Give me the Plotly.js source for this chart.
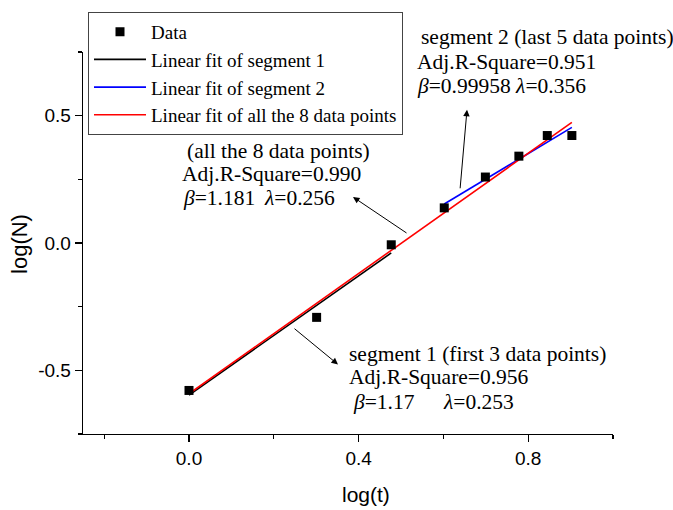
<!DOCTYPE html>
<html>
<head>
<meta charset="utf-8">
<script src="https://cdn.plot.ly/plotly-3.0.1.min.js"></script>
<style>html,body{margin:0;padding:0;background:#fff;}#chart{width:673px;height:510px;}</style>
</head>
<body>
<div id="chart"></div>
<script>
// ---- data ----
const logT = [0, 0.301, 0.477, 0.602, 0.699, 0.778, 0.845, 0.903];
const logN = [-0.579, -0.292, -0.007, 0.138, 0.259, 0.341, 0.422, 0.422];
const seg1X = [0, 0.477];
const seg1Y = [-0.597, -0.039];
const seg2X = [0.602, 0.903];
const seg2Y = [0.153, 0.454];
const allX = [0, 0.903];
const allY = [-0.592, 0.474];
const xTickVals = [0, 0.4, 0.8];
const xTickText = ['0.0', '0.4', '0.8'];
const yTickVals = [-0.5, 0, 0.5];
const yTickText = ['-0.5', '0.0', '0.5'];
const legendNames = ['Data', 'Linear fit of segment 1', 'Linear fit of segment 2', 'Linear fit of all the 8 data points'];

const serif = 'Liberation Serif, Times New Roman, serif';
const sans = 'Liberation Sans, Arial, sans-serif';

const traces = [
  {x: seg1X, y: seg1Y, mode: 'lines', name: legendNames[1], line: {color: '#000000', width: 1.6}, legendrank: 2},
  {x: seg2X, y: seg2Y, mode: 'lines', name: legendNames[2], line: {color: '#0000ff', width: 1.6}, legendrank: 3},
  {x: allX, y: allY, mode: 'lines', name: legendNames[3], line: {color: '#ff0000', width: 1.6}, legendrank: 4},
  {x: logT, y: logN, mode: 'markers', name: legendNames[0], marker: {symbol: 'square', size: 9, color: '#000000'}, legendrank: 1}
];

// plot area: left 83px, width 530px, bottom 434px, height 390px
function px2paperX(px) { return (px - 83) / 530; }
function px2paperY(py) { return (434 - py) / 390; }

function txt(px, py, t) {
  return {x: px2paperX(px), y: px2paperY(py), xref: 'paper', yref: 'paper', text: t, showarrow: false,
          xanchor: 'left', yanchor: 'middle', font: {family: serif, size: 21.5, color: '#000'}};
}
function arrow(hx, hy, tx, ty) {
  return {x: px2paperX(hx), y: px2paperY(hy), xref: 'paper', yref: 'paper', text: '', showarrow: true,
          ax: tx - hx, ay: ty - hy,
          arrowhead: 2, arrowsize: 1.3, arrowwidth: 1, arrowcolor: '#000', standoff: 0, startstandoff: 0};
}

const annotations = [
  txt(419, 29, 'segment 2 (last 5 data points)'),
  txt(415, 54, 'Adj.R-Square=0.951'),
  txt(415, 79, '<i>β</i>=0.99958 <i>λ</i>=0.356'),
  txt(185, 145, '(all the 8 data points)'),
  txt(180, 169, 'Adj.R-Square=0.990'),
  txt(181, 193, '<i>β</i>=1.181'),
  txt(262, 193, '<i>λ</i>=0.256'),
  txt(347, 352, 'segment 1 (first 3 data points)'),
  txt(347, 376, 'Adj.R-Square=0.956'),
  txt(351, 401, '<i>β</i>=1.17'),
  txt(441, 401, '<i>λ</i>=0.253'),
  arrow(353, 192, 408, 229),
  arrow(338, 363, 293, 326),
  arrow(467, 103, 460, 183),
  {x: px2paperX(366), y: px2paperY(496), xref: 'paper', yref: 'paper', text: 'log(t)', showarrow: false,
   xanchor: 'center', yanchor: 'middle', font: {family: sans, size: 21, color: '#000'}},
  {x: px2paperX(20), y: px2paperY(240), xref: 'paper', yref: 'paper', text: 'log(N)', showarrow: false, textangle: -90,
   xanchor: 'center', yanchor: 'middle', font: {family: sans, size: 22, color: '#000'}}
];

const layout = {
  width: 673, height: 510,
  margin: {l: 83, r: 60, t: 44, b: 76, pad: 0},
  paper_bgcolor: '#fff', plot_bgcolor: '#fff',
  showlegend: true,
  legend: {x: px2paperX(88), y: px2paperY(3), xanchor: 'left', yanchor: 'top', bgcolor: '#fff',
           bordercolor: '#444', borderwidth: 1, itemwidth: 52,
           font: {family: serif, size: 19, color: '#000'}, tracegroupgap: 0},
  xaxis: {range: [-0.25, 1.0], tickmode: 'array', tickvals: xTickVals, ticktext: xTickText,
          showgrid: false, zeroline: false, showline: true, linecolor: '#000', linewidth: 1.3,
          ticks: 'outside', ticklen: 7, tickwidth: 1.3, tickcolor: '#000',
          minor: {tickmode: 'linear', tick0: 0, dtick: 0.2, ticks: 'outside', ticklen: 4, tickwidth: 1.3, tickcolor: '#000', showgrid: false},
          tickfont: {family: sans, size: 19, color: '#000'}},
  yaxis: {range: [-0.75, 0.75], tickmode: 'array', tickvals: yTickVals, ticktext: yTickText,
          showgrid: false, zeroline: false, showline: true, linecolor: '#000', linewidth: 1.3,
          ticks: 'outside', ticklen: 7, tickwidth: 1.3, tickcolor: '#000',
          minor: {tickmode: 'linear', tick0: 0, dtick: 0.25, ticks: 'outside', ticklen: 4, tickwidth: 1.3, tickcolor: '#000', showgrid: false},
          tickfont: {family: sans, size: 19, color: '#000'}},
  annotations: annotations
};

Plotly.newPlot('chart', traces, layout, {displayModeBar: false, staticPlot: true});
</script>
</body>
</html>
